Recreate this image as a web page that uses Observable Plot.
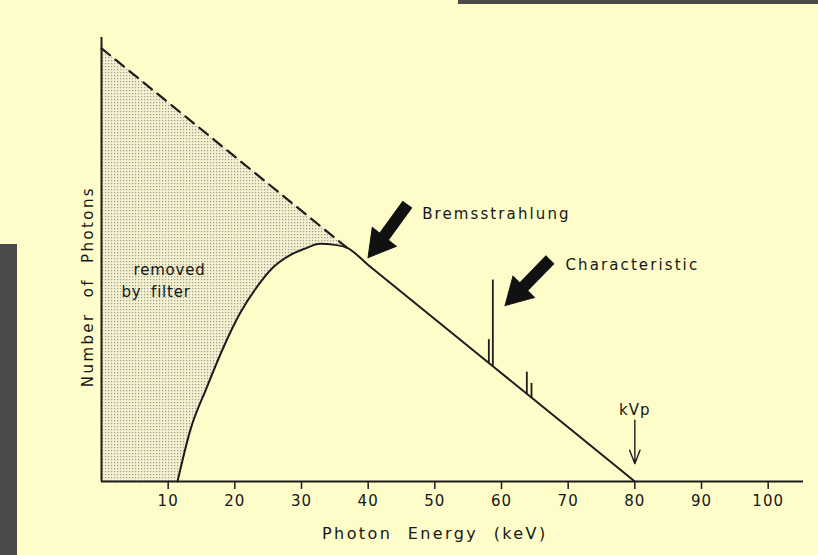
<!DOCTYPE html>
<html><head><meta charset="utf-8">
<script src="https://cdn.jsdelivr.net/npm/d3@7"></script>
<script src="https://cdn.jsdelivr.net/npm/@observablehq/plot@0.6"></script>
<style>
html,body{margin:0;padding:0;background:#fefdca;}
#wrap{position:relative;width:818px;height:555px;overflow:hidden;background:#fefdca;}
.band{position:absolute;background:#4a4a4a;}
svg text{font-family:"DejaVu Sans",sans-serif;fill:#161616;}
</style></head><body><div id="wrap"></div>
<script>
// Unfiltered (dashed) spectrum, keV vs relative photon number
const unfilteredEnergy = [0, 36.8];
const unfilteredPhotons = [80, 43.2];
// Filtered spectrum (solid)
const filteredEnergy  = [11.4, 13.3, 15.8, 18.3, 20.8, 23.3, 25.8, 28.3, 30.5, 32.8, 35.0, 36.8, 40, 60, 80];
const filteredPhotons = [0,    9.4,  17.4, 24.8, 31.1, 35.9, 39.6, 41.8, 43.0, 43.9, 43.7, 43.2, 40, 20, 0];
// Characteristic lines
const lineEnergy = [58.1, 58.7, 63.8, 64.5];
const lineBase   = [21.9, 21.3, 16.2, 15.5];
const lineTop    = [26.2, 37.2, 20.2, 18.1];
// Axis
const xTicks = [10, 20, 30, 40, 50, 60, 70, 80, 90, 100];
const xLabel = "Photon Energy (keV)";
const yLabel = "Number of Photons";
// Annotations
const noteText   = ["Bremsstrahlung", "Characteristic", "removed", "by filter", "kVp"];
const noteEnergy = [48.1, 69.6, 4.8, 3.0, 80];
const notePhoton = [49.4, 39.9, 39.0, 34.9, 13.1];
const noteAnchor = ["start", "start", "start", "start", "middle"];
// Block arrows: tail, head centre and head direction (degrees clockwise from up)
const arrowTailE = [45.9, 67.3];
const arrowTailN = [51.2, 41.0];
const arrowHeadE = [41.6, 62.4];
const arrowHeadN = [43.9, 34.8];
const arrowAngle = [218, 225];
// kVp arrow
const kvpEnergy = 80;
const kvpFrom = 11.3;
const kvpTo = 3.3;

const BG = "#fefdca";
const INK = "#1c1c1c";

const unfiltered = unfilteredEnergy.map((e, i) => ({e, n: unfilteredPhotons[i]}));
const filtered = filteredEnergy.map((e, i) => ({e, n: filteredPhotons[i]}));
const lines = lineEnergy.map((e, i) => ({e, base: lineBase[i], top: lineTop[i]}));
const notes = noteText.map((t, i) => ({t, e: noteEnergy[i], n: notePhoton[i], a: noteAnchor[i]}));
const arrows = arrowTailE.map((e, i) => ({x1: e, y1: arrowTailN[i], x2: arrowHeadE[i], y2: arrowHeadN[i], a: arrowAngle[i]}));

const plot = Plot.plot({
  width: 818, height: 555,
  marginLeft: 101, marginRight: 15, marginTop: 37, marginBottom: 74,
  x: {domain: [0, 105.3]},
  y: {domain: [0, 82], axis: null},
  style: {background: "transparent", fontFamily: "DejaVu Sans", fontSize: "15px", color: INK},
  marks: [
    Plot.areaY(unfiltered, {x: "e", y: "n", fill: "url(#stipple)"}),
    Plot.areaY(filtered, {x: "e", y: "n", fill: BG, curve: "monotone-x"}),
    Plot.line(unfiltered, {x: "e", y: "n", stroke: INK, strokeWidth: 2.2, strokeDasharray: "11,7"}),
    Plot.line(filtered, {x: "e", y: "n", stroke: INK, strokeWidth: 2, curve: "monotone-x"}),
    Plot.ruleX(lines, {x: "e", y1: "base", y2: "top", stroke: INK, strokeWidth: 1.8}),
    Plot.ruleY([0], {stroke: INK, strokeWidth: 2}),
    Plot.ruleX([0], {y1: 0, y2: 82, stroke: INK, strokeWidth: 2}),
    Plot.axisX({ticks: xTicks, tickSize: 8, tickPadding: 6, fontSize: 15, label: null, tickFormat: d => String(d), strokeWidth: 1.5}),
    Plot.link(arrows, {x1: "x1", y1: "y1", x2: "x2", y2: "y2", stroke: "#111", strokeWidth: 12}),
    Plot.dot(arrows, {x: "x2", y: "y2", symbol: "triangle2", r: 14.5, rotate: "a", fill: "#111", stroke: "#111", strokeWidth: 1, strokeLinejoin: "miter"}),
    Plot.arrow([kvpEnergy], {x1: d => d, x2: d => d, y1: kvpFrom, y2: kvpTo, stroke: INK, strokeWidth: 1.4, headAngle: 42, headLength: 20}),
    Plot.text(notes, {filter: d => d.a === "start", x: "e", y: "n", text: "t", textAnchor: "start", fontSize: 15, fill: INK}),
    Plot.text(notes, {filter: d => d.a === "middle", x: "e", y: "n", text: "t", textAnchor: "middle", fontSize: 15, fill: INK}),
    Plot.text([xLabel], {x: 50, y: 0, dy: 52, fontSize: 16, fill: INK}),
    Plot.text([yLabel], {x: 0, y: 36, dx: -13, rotate: -90, fontSize: 15, fill: INK})
  ]
});

// stipple pattern
const ns = "http://www.w3.org/2000/svg";
const defs = document.createElementNS(ns, "defs");
defs.innerHTML = '<pattern id="stipple" width="3" height="3" patternUnits="userSpaceOnUse">' +
  '<rect width="3" height="3" fill="#f3f1cf"/><rect width="1.2" height="1.2" fill="#9e9c8c"/></pattern>';
plot.insertBefore(defs, plot.firstChild);

// letter spacing to mimic lettering
d3.select(plot).selectAll("text").each(function() {
  const s = this.textContent;
  if (s === xLabel) { this.style.letterSpacing = "2.4px"; this.style.wordSpacing = "8px"; }
  else if (s === yLabel) { this.style.letterSpacing = "2.4px"; this.style.wordSpacing = "8px"; }
  else if (s === "Bremsstrahlung" || s === "Characteristic") { this.style.letterSpacing = "2.1px"; }
  else if (s === "removed" || s === "by filter") { this.style.letterSpacing = "0.8px"; this.style.wordSpacing = "4px"; }
  else { this.style.letterSpacing = "1px"; }
});

const wrap = document.getElementById("wrap");
wrap.appendChild(plot);
const b1 = document.createElement("div"); b1.className = "band";
Object.assign(b1.style, {left: "458px", top: "0px", width: "360px", height: "4px"});
const b2 = document.createElement("div"); b2.className = "band";
Object.assign(b2.style, {left: "0px", top: "244px", width: "17px", height: "311px"});
wrap.appendChild(b1); wrap.appendChild(b2);
</script></body></html>
